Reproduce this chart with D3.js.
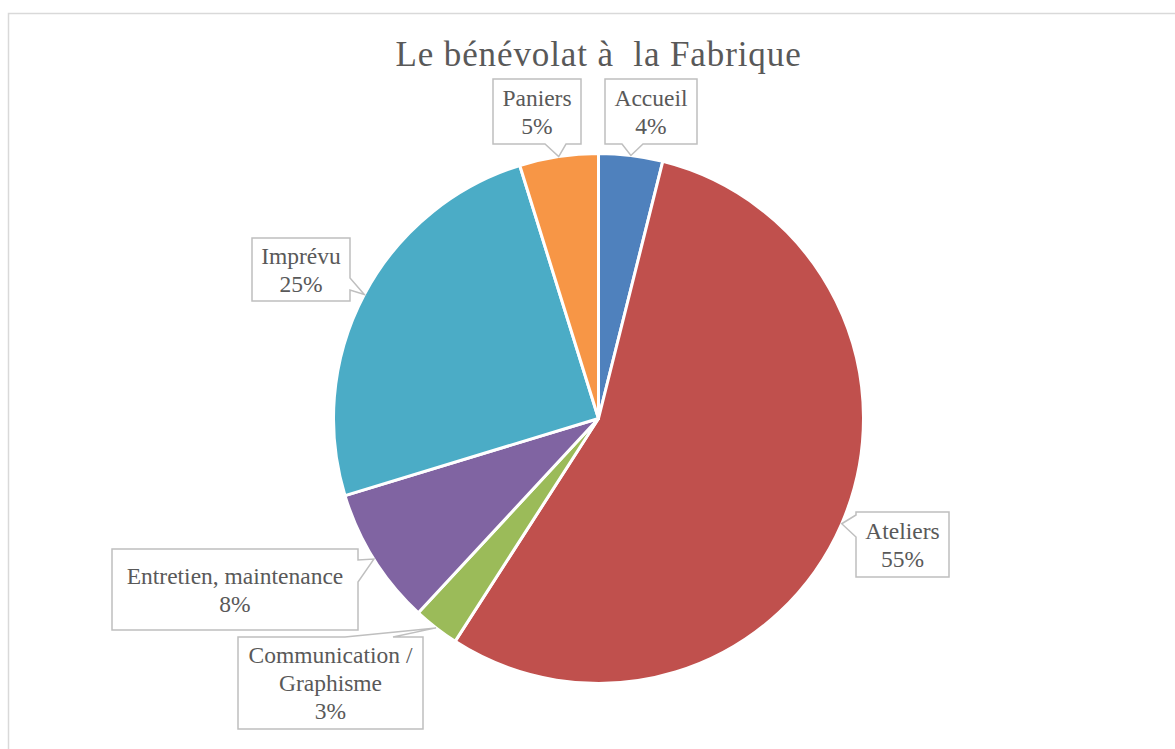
<!DOCTYPE html>
<html>
<head>
<meta charset="utf-8">
<script src="https://cdn.jsdelivr.net/npm/d3@7"></script>
<style>
  body { margin: 0; background: #fff; }
</style>
</head>
<body>
<svg></svg>
<script>
const WIDTH = 1175;
const HEIGHT = 749;
const CX = 598.5;
const CY = 418.5;
const RADIUS = 265;

// data
const categories = ['Accueil', 'Ateliers', 'Communication / Graphisme', 'Entretien, maintenance', 'Imprévu', 'Paniers'];
const values = [3.9, 55.2, 2.8, 8.4, 24.9, 4.8];
const colors = ['#4F81BD', '#C0504D', '#9BBB59', '#8064A2', '#4BACC6', '#F79646'];
const labelLines = [['Accueil'], ['Ateliers'], ['Communication /', 'Graphisme'], ['Entretien, maintenance'], ['Imprévu'], ['Paniers']];

// callout boxes: x, y, w, h, side of the pointer, pointer base offsets
const boxes = [
  { x: 605, y: 79, w: 92, h: 65, side: 'bottom', b0: 17, b1: 38 },
  { x: 856, y: 512, w: 93, h: 65, side: 'left', b0: 3, b1: 25 },
  { x: 238, y: 637, w: 185, h: 92, side: 'top', b0: 107, b1: 155 },
  { x: 112, y: 549, w: 246, h: 81, side: 'right', b0: 11, b1: 33 },
  { x: 252, y: 238, w: 98, h: 63, side: 'right', b0: 40, b1: 52 },
  { x: 493, y: 79, w: 88, h: 65, side: 'bottom', b0: 52, b1: 73 }
];

const svg = d3.select('svg')
  .attr('width', WIDTH)
  .attr('height', HEIGHT)
  .attr('font-family', '"Liberation Serif", "Times New Roman", serif');

svg.append('rect')
  .attr('x', 8.5)
  .attr('y', 13.5)
  .attr('width', WIDTH)
  .attr('height', HEIGHT)
  .attr('fill', 'none')
  .attr('stroke', '#d9d9d9')
  .attr('stroke-width', 1.5);

svg.append('text')
  .attr('x', CX)
  .attr('y', 66)
  .attr('text-anchor', 'middle')
  .attr('font-size', 35)
  .attr('letter-spacing', 0.9)
  .attr('fill', '#595959')
  .text('Le bénévolat à\u00a0 la Fabrique');

const pie = d3.pie().sort(null).value(d => d)(values);
const arc = d3.arc().innerRadius(0).outerRadius(RADIUS);
const edgeArc = d3.arc().innerRadius(RADIUS).outerRadius(RADIUS);

const pieG = svg.append('g')
  .attr('transform', `translate(${CX}, ${CY})`);

pieG.selectAll('path')
  .data(pie)
  .enter()
  .append('path')
  .attr('d', arc)
  .attr('fill', (d, i) => colors[i])
  .attr('stroke', '#fff')
  .attr('stroke-width', 3)
  .attr('stroke-linejoin', 'round');

function calloutPath(b, tip) {
  const x0 = b.x, y0 = b.y, x1 = b.x + b.w, y1 = b.y + b.h;
  const [tx, ty] = tip;
  let pts;
  if (b.side === 'bottom') {
    pts = [[x0, y0], [x1, y0], [x1, y1], [x0 + b.b1, y1], [tx, ty], [x0 + b.b0, y1], [x0, y1]];
  } else if (b.side === 'top') {
    pts = [[x0, y0], [x0 + b.b0, y0], [tx, ty], [x0 + b.b1, y0], [x1, y0], [x1, y1], [x0, y1]];
  } else if (b.side === 'right') {
    pts = [[x0, y0], [x1, y0], [x1, y0 + b.b0], [tx, ty], [x1, y0 + b.b1], [x1, y1], [x0, y1]];
  } else {
    pts = [[x0, y0], [x1, y0], [x1, y1], [x0, y1], [x0, y0 + b.b1], [tx, ty], [x0, y0 + b.b0]];
  }
  return d3.line()(pts) + 'Z';
}

const labelG = svg.append('g');

pie.forEach((d, i) => {
  const b = boxes[i];
  const c = edgeArc.centroid(d);
  const tip = [c[0] + CX, c[1] + CY];

  labelG.append('path')
    .attr('d', calloutPath(b, tip))
    .attr('fill', '#fff')
    .attr('stroke', '#bfbfbf')
    .attr('stroke-width', 1.5);

  const lines = labelLines[i].concat([`${Math.round(values[i])}%`]);
  const lh = 28;
  const mid = b.y + b.h / 2;
  const t = labelG.append('text')
    .attr('text-anchor', 'middle')
    .attr('font-size', 23.5)
    .attr('fill', '#595959');
  lines.forEach((line, k) => {
    t.append('tspan')
      .attr('x', b.x + b.w / 2)
      .attr('y', mid + (k - (lines.length - 1) / 2) * lh + 8)
      .text(line);
  });
});
</script>
</body>
</html>
